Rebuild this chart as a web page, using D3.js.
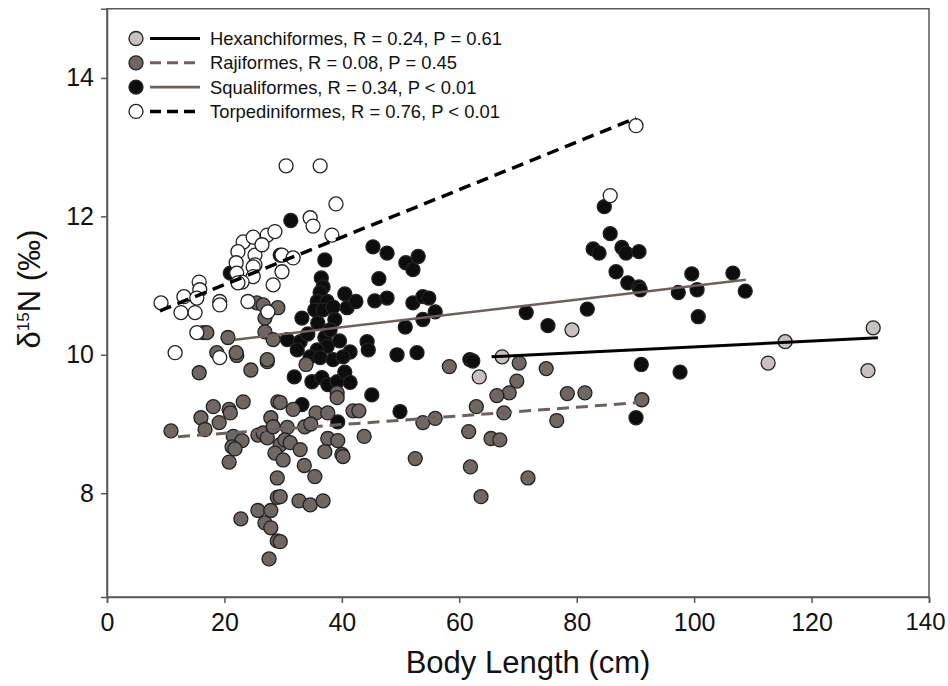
<!DOCTYPE html>
<html>
<head>
<meta charset="utf-8">
<script src="https://cdn.jsdelivr.net/npm/d3@7/dist/d3.min.js"></script>
<style>
  body { margin: 0; background: #fff; }
  svg { display: block; font-family: "Liberation Sans", Arial, Helvetica, sans-serif; }
</style>
</head>
<body>
<div id="chart"></div>
<script>
// body length (cm), delta 15N (permil)
const hexanchiformes = [
  [67.3, 9.97], [63.4, 9.68], [79.2, 10.36], [115.5, 10.19], [112.6, 9.88],
  [130.5, 10.39], [129.6, 9.77]
];

const rajiformes = [
  [15.7, 9.74], [22.1, 9.99], [24.5, 9.78], [27.3, 9.90], [18.1, 9.25], [16.0, 9.09],
  [16.7, 8.92], [19.1, 9.02], [20.8, 9.21], [21.0, 9.16], [23.2, 9.32], [10.9, 8.90],
  [21.5, 8.82], [23.0, 8.76], [21.3, 8.67], [21.8, 8.64], [20.8, 8.45], [25.7, 8.84],
  [26.6, 8.87], [27.3, 8.80], [27.9, 9.09], [28.3, 8.96], [29.1, 9.32], [30.7, 8.95],
  [29.5, 8.70], [28.6, 8.58], [30.0, 8.48], [30.3, 8.77], [29.0, 8.22], [29.0, 7.94],
  [25.7, 7.75], [27.9, 7.75], [26.9, 7.57], [27.9, 7.50], [29.0, 7.31], [22.8, 7.63],
  [27.6, 7.05], [25.5, 10.75], [26.6, 10.72], [29.1, 10.68], [26.9, 10.53], [26.9, 10.33],
  [28.3, 10.22], [16.4, 10.32], [17.0, 10.32], [20.6, 10.25], [18.7, 10.03], [22.0, 10.03],
  [27.3, 9.93], [33.9, 9.86], [39.2, 9.45], [39.2, 9.38], [31.7, 9.21], [35.6, 9.16],
  [37.6, 9.16], [41.9, 9.19], [42.9, 9.19], [58.3, 9.83], [29.5, 9.31], [33.7, 8.96],
  [34.7, 9.00], [37.6, 8.79], [39.3, 8.76], [43.8, 8.82], [31.2, 8.73], [32.9, 8.63],
  [37.1, 8.60], [40.0, 8.56], [40.2, 8.53], [33.6, 8.40], [35.4, 8.24], [29.5, 7.95],
  [32.7, 7.89], [34.6, 7.83], [36.8, 7.89], [29.5, 7.30], [52.5, 8.50], [53.8, 9.02],
  [55.9, 9.08], [61.6, 8.89], [61.9, 8.38], [70.2, 9.88], [74.8, 9.80], [69.8, 9.62],
  [68.5, 9.45], [66.4, 9.41], [62.9, 9.25], [67.6, 9.16], [78.4, 9.44], [81.4, 9.45],
  [91.1, 9.35], [76.6, 9.05], [65.4, 8.79], [66.9, 8.77], [71.7, 8.22], [63.7, 7.95]
];

const squaliformes = [
  [31.3, 11.94], [21.0, 11.18], [29.5, 11.44], [30.7, 10.22], [45.3, 11.56], [47.7, 11.47],
  [50.9, 11.33], [53.0, 11.42], [52.1, 11.23], [37.1, 11.37], [46.3, 11.10], [36.5, 11.11],
  [36.8, 10.98], [36.3, 10.90], [35.8, 10.77], [37.5, 10.77], [35.4, 10.65], [36.8, 10.65],
  [38.5, 10.69], [40.9, 10.68], [42.4, 10.77], [45.6, 10.78], [47.7, 10.82], [52.1, 10.75],
  [53.8, 10.84], [54.8, 10.82], [55.9, 10.62], [53.8, 10.51], [50.8, 10.40], [33.2, 10.53],
  [35.9, 10.46], [38.8, 10.51], [32.9, 10.19], [37.1, 10.25], [37.5, 10.12], [32.4, 10.07],
  [35.8, 10.07], [41.4, 10.04], [44.3, 10.19], [44.5, 10.07], [49.4, 10.00], [52.8, 10.03],
  [61.8, 9.93], [34.6, 9.97], [36.3, 9.96], [38.5, 9.93], [40.2, 9.97], [31.9, 9.68],
  [34.9, 9.61], [36.6, 9.67], [37.6, 9.57], [39.2, 9.61], [40.5, 9.75], [41.4, 9.60],
  [45.1, 9.42], [33.2, 9.28], [39.3, 9.03], [49.9, 9.18], [38.0, 10.36], [34.2, 10.30],
  [40.5, 10.88], [39.6, 10.20], [84.7, 12.14], [85.7, 11.75], [82.8, 11.53], [83.8, 11.47],
  [87.7, 11.55], [88.4, 11.47], [90.6, 11.49], [86.7, 11.20], [88.7, 11.04], [90.6, 10.98],
  [90.8, 10.94], [97.3, 10.90], [99.6, 11.17], [100.5, 10.94], [100.7, 10.55], [106.6, 11.18],
  [108.7, 10.92], [71.4, 10.61], [75.1, 10.42], [81.8, 10.66], [62.3, 9.91], [91.0, 9.86],
  [97.6, 9.75], [90.1, 9.09]
];

const torpediniformes = [
  [9.2, 10.75], [13.1, 10.84], [15.7, 11.05], [15.8, 10.94], [15.3, 10.82], [12.6, 10.61],
  [15.0, 10.61], [19.2, 10.77], [19.2, 10.72], [23.2, 11.63], [24.9, 11.70], [27.3, 11.73],
  [28.6, 11.78], [22.3, 11.49], [25.2, 11.44], [25.2, 11.30], [22.0, 11.33], [24.9, 11.27],
  [22.1, 11.18], [24.9, 11.13], [23.0, 11.05], [22.3, 11.04], [29.8, 11.44], [29.8, 11.20],
  [28.3, 11.01], [24.0, 10.77], [27.4, 10.62], [15.3, 10.32], [11.6, 10.03], [26.4, 11.59],
  [30.5, 12.73], [36.3, 12.73], [39.0, 12.18], [34.6, 11.98], [35.1, 11.86], [38.3, 11.73],
  [31.7, 11.40], [19.2, 9.96], [85.7, 12.30], [90.1, 13.31]
];

// regression lines, start and end points
const hexFit = [[65.5, 9.97], [131.3, 10.245]];
const rajFit = [[12.1, 8.816], [90.3, 9.307]];
const squalFit = [[21.8, 10.217], [108.8, 11.083]];
const torpFit = [[9.0, 10.635], [90.1, 13.42]];

const legendLabels = [
  'Hexanchiformes, R = 0.24, P = 0.61',
  'Rajiformes, R = 0.08, P = 0.45',
  'Squaliformes, R = 0.34, P < 0.01',
  'Torpediniformes, R = 0.76, P < 0.01'
];

const xTicks = [0, 20, 40, 60, 80, 100, 120, 140];
const yTicks = [8, 10, 12, 14];

const width = 948;
const height = 686;
const margin = { top: 8.75, right: 19, bottom: 89, left: 107 };

// one entry per order: points, fill, fitted line and its style
const groups = [
  { name: 'squal', points: squaliformes, fill: '#0e0d0d', fit: squalFit, stroke: '#6b625f', width: 2.6, dash: null },
  { name: 'raj', points: rajiformes, fill: '#6e6764', fit: rajFit, stroke: '#6b625f', width: 3, dash: '12,7' },
  { name: 'torp', points: torpediniformes, fill: '#ffffff', fit: torpFit, stroke: '#000000', width: 3.5, dash: '12,7' },
  { name: 'hex', points: hexanchiformes, fill: '#c7c1bf', fit: hexFit, stroke: '#000000', width: 3, dash: null }
];
const legendOrder = ['hex', 'raj', 'squal', 'torp'];

const x = d3.scaleLinear().domain([0, 140]).range([margin.left, width - margin.right]);
const y = d3.scaleLinear().domain([6.5, 15]).range([height - margin.bottom, margin.top]);

const svg = d3.select('#chart')
  .append('svg')
  .attr('width', width)
  .attr('height', height);

// frame round the plot
svg.append('rect')
  .attr('x', x(0))
  .attr('y', y(15))
  .attr('width', x(140) - x(0))
  .attr('height', y(6.5) - y(15))
  .attr('fill', 'none')
  .attr('stroke', '#5a5656')
  .attr('stroke-width', 1.5);

const xAxis = svg.append('g')
  .attr('transform', `translate(0, ${y(6.5)})`)
  .call(d3.axisBottom(x).tickValues(xTicks).tickSize(6).tickPadding(10).tickFormat(d3.format('d')));

const yAxis = svg.append('g')
  .attr('transform', `translate(${x(0)}, 0)`)
  .call(d3.axisLeft(y).tickValues(yTicks).tickSize(6).tickPadding(7).tickFormat(d3.format('d')));

[xAxis, yAxis].forEach(axis => {
  axis.select('.domain').attr('stroke', '#5a5656').attr('stroke-width', 1.5);
  axis.selectAll('.tick line').attr('stroke', '#5a5656').attr('stroke-width', 1.5);
  axis.selectAll('.tick text')
    .attr('font-family', '"Liberation Sans", Arial, sans-serif')
    .attr('font-size', 25)
    .attr('fill', '#111');
});

// the last x label sits on the page edge, nudge it inside
xAxis.selectAll('.tick text')
  .filter(d => d === 140)
  .attr('font-size', 24)
  .attr('dx', -4);

// points
groups.forEach(g => {
  svg.append('g')
    .attr('class', `points-${g.name}`)
    .selectAll('circle')
    .data(g.points)
    .enter()
    .append('circle')
    .attr('cx', d => x(d[0]))
    .attr('cy', d => y(d[1]))
    .attr('r', 7)
    .attr('fill', g.fill)
    .attr('stroke', '#222')
    .attr('stroke-width', 1.3);
});

// fitted lines on top of the points
const line = d3.line().x(d => x(d[0])).y(d => y(d[1]));
groups.forEach(g => {
  svg.append('path')
    .datum(g.fit)
    .attr('d', line)
    .attr('fill', 'none')
    .attr('stroke', g.stroke)
    .attr('stroke-width', g.width)
    .attr('stroke-dasharray', g.dash);
});

// legend
const legend = svg.append('g').attr('class', 'legend');
legendOrder.forEach((name, i) => {
  const g = groups.find(d => d.name === name);
  const cy = 38.5 + i * 24.3;
  legend.append('circle')
    .attr('cx', 136)
    .attr('cy', cy)
    .attr('r', 7)
    .attr('fill', g.fill)
    .attr('stroke', '#222')
    .attr('stroke-width', 1.3);
  legend.append('line')
    .attr('x1', 150)
    .attr('x2', 200)
    .attr('y1', cy)
    .attr('y2', cy)
    .attr('stroke', g.stroke)
    .attr('stroke-width', g.width)
    .attr('stroke-dasharray', g.dash ? '11,6' : null);
  legend.append('text')
    .attr('x', 210)
    .attr('y', cy + 6.5)
    .attr('font-size', 18.4)
    .attr('fill', '#111')
    .text(legendLabels[i]);
});

// axis titles
svg.append('text')
  .attr('x', 528)
  .attr('y', 673)
  .attr('text-anchor', 'middle')
  .attr('font-size', 31)
  .attr('fill', '#111')
  .text('Body Length (cm)');

const yTitle = svg.append('text')
  .attr('transform', 'translate(40, 289) rotate(-90)')
  .attr('text-anchor', 'middle')
  .attr('font-size', 31)
  .attr('fill', '#111');
yTitle.append('tspan').text('δ');
yTitle.append('tspan').attr('font-size', 17).attr('dy', -11).text('15');
yTitle.append('tspan').attr('dy', 11).text('N (‰)');
</script>
</body>
</html>
